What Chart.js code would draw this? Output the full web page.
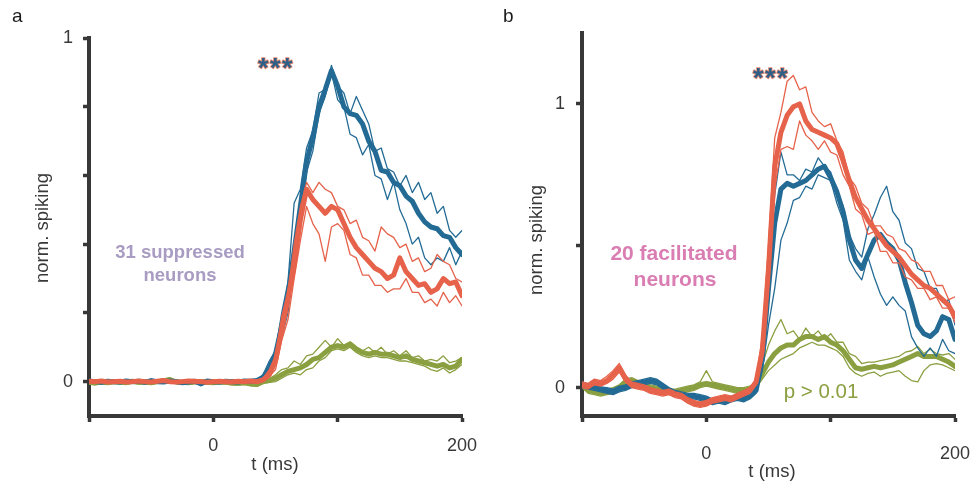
<!DOCTYPE html>
<html>
<head>
<meta charset="utf-8">
<script src="https://cdn.jsdelivr.net/npm/chart.js@4.4.0/dist/chart.umd.min.js"></script>
<style>
  body { margin: 0; background: #fff; }
  #wrap { position: relative; width: 977px; height: 484px; }
  canvas { position: absolute; top: 0; }
</style>
</head>
<body>
<div id="wrap">
  <canvas id="chartA" width="489" height="484" style="left:0"></canvas>
  <canvas id="chartB" width="488" height="484" style="left:489px"></canvas>
</div>
<script>
// time axis, ms (5 ms steps)
const TIME_MS = [-100,-95,-90,-85,-80,-75,-70,-65,-60,-55,-50,-45,-40,-35,-30,-25,-20,-15,-10,-5,
  0,5,10,15,20,25,30,35,40,45,50,55,60,65,70,75,80,85,90,95,
  100,105,110,115,120,125,130,135,140,145,150,155,160,165,170,175,180,185,190,195,200];

const X_TICKS = [-100, 0, 100, 200];
const X_LABELS = { '0': '0', '200': '200' };

// panel a: 31 suppressed neurons
const A_Y_TICKS = [0, 0.2, 0.4, 0.6, 0.8, 1];
const A_BLUE_MEAN = [0.002,0.000,-0.002,0.001,0.000,-0.001,0.002,0.000,0.001,-0.002,0.003,0.000,-0.001,0.002,0.000,-0.003,-0.001,0.001,-0.006,0.002,0.000,-0.001,0.001,0.000,-0.001,0.002,0.001,0.003,
  0.012,0.04,0.08,0.16,0.25,0.38,0.51,0.64,0.71,0.8,0.85,0.905,0.86,0.8,0.78,0.775,0.75,0.7,0.67,0.615,0.61,0.58,0.57,0.54,0.525,0.49,0.465,0.45,0.445,0.425,0.42,0.39,0.37];
const A_BLUE_HI = [0.006,0.004,0.002,0.005,0.004,0.003,0.006,0.004,0.005,0.002,0.007,0.004,0.003,0.006,0.004,0.001,0.003,0.005,-0.002,0.006,0.004,0.003,0.005,0.004,0.003,0.006,0.005,0.007,
  0.02,0.06,0.09,0.2,0.29,0.52,0.56,0.68,0.73,0.84,0.85,0.92,0.86,0.84,0.78,0.83,0.79,0.75,0.67,0.68,0.62,0.61,0.57,0.6,0.55,0.58,0.53,0.55,0.49,0.51,0.44,0.42,0.44];
const A_BLUE_LO = [-0.002,-0.004,-0.006,-0.003,-0.004,-0.005,-0.002,-0.004,-0.003,-0.006,-0.001,-0.004,-0.005,-0.002,-0.004,-0.007,-0.005,-0.003,-0.012,-0.002,-0.004,-0.005,-0.003,-0.004,-0.005,-0.002,-0.003,-0.001,
  0.005,0.025,0.065,0.13,0.2,0.35,0.47,0.61,0.67,0.78,0.83,0.9,0.82,0.8,0.72,0.71,0.66,0.69,0.6,0.59,0.53,0.58,0.5,0.46,0.4,0.42,0.36,0.34,0.36,0.35,0.39,0.34,0.38];
const A_ORANGE_MEAN = [0.001,0.000,0.002,-0.001,0.000,0.001,-0.001,0.000,0.002,0.000,-0.001,0.001,0.003,0.000,-0.001,0.000,0.002,0.001,0.000,-0.002,0.000,0.001,0.000,-0.001,0.001,0.000,0.002,0.000,
  0.005,0.02,0.06,0.15,0.24,0.34,0.47,0.56,0.53,0.51,0.49,0.51,0.5,0.46,0.42,0.39,0.37,0.35,0.33,0.32,0.3,0.31,0.36,0.32,0.3,0.28,0.285,0.26,0.27,0.3,0.285,0.29,0.25];
const A_ORANGE_HI = [0.005,0.004,0.006,0.003,0.004,0.005,0.003,0.004,0.006,0.004,0.003,0.005,0.007,0.004,0.003,0.004,0.006,0.005,0.004,0.002,0.004,0.005,0.004,0.003,0.005,0.004,0.006,0.004,
  0.01,0.035,0.075,0.19,0.26,0.4,0.51,0.58,0.55,0.58,0.56,0.55,0.51,0.5,0.46,0.47,0.42,0.41,0.38,0.45,0.43,0.42,0.39,0.4,0.35,0.36,0.32,0.33,0.37,0.35,0.34,0.3,0.29];
const A_ORANGE_LO = [-0.003,-0.004,-0.002,-0.005,-0.004,-0.003,-0.005,-0.004,-0.002,-0.004,-0.005,-0.003,-0.001,-0.004,-0.005,-0.004,-0.002,-0.003,-0.004,-0.006,-0.004,-0.003,-0.004,-0.005,-0.003,-0.004,-0.002,-0.004,
  0.0,0.015,0.035,0.12,0.18,0.3,0.41,0.51,0.46,0.43,0.35,0.45,0.46,0.44,0.37,0.36,0.31,0.31,0.28,0.28,0.26,0.27,0.27,0.3,0.26,0.26,0.23,0.24,0.22,0.26,0.23,0.25,0.22];
const A_GREEN_MEAN = [-0.002,-0.004,-0.001,-0.003,0.000,-0.002,-0.003,0.001,-0.002,-0.001,-0.003,0.000,0.002,0.005,-0.001,-0.002,-0.003,-0.001,0.000,-0.002,-0.003,-0.001,-0.002,-0.004,-0.005,-0.003,-0.006,-0.008,
  0.0,0.003,0.01,0.02,0.03,0.035,0.04,0.05,0.065,0.07,0.085,0.1,0.105,0.1,0.11,0.095,0.085,0.08,0.085,0.08,0.08,0.075,0.07,0.075,0.065,0.06,0.055,0.05,0.045,0.05,0.04,0.045,0.065];
const A_GREEN_HI = [0.003,0.000,0.004,0.001,0.005,0.002,0.001,0.006,0.003,0.004,0.002,0.005,0.008,0.012,0.004,0.003,0.002,0.004,0.006,0.003,0.002,0.004,0.003,0.001,0.000,0.002,-0.002,-0.003,
  0.003,0.008,0.02,0.035,0.04,0.06,0.05,0.075,0.08,0.1,0.12,0.1,0.125,0.105,0.115,0.1,0.09,0.1,0.085,0.1,0.08,0.09,0.075,0.09,0.07,0.075,0.06,0.065,0.06,0.075,0.055,0.06,0.07];
const A_GREEN_LO = [-0.007,-0.009,-0.006,-0.008,-0.005,-0.007,-0.008,-0.004,-0.007,-0.006,-0.008,-0.005,-0.003,0.000,-0.006,-0.007,-0.008,-0.006,-0.005,-0.007,-0.008,-0.006,-0.007,-0.009,-0.01,-0.008,-0.012,-0.014,
  -0.005,-0.002,0.0,0.01,0.02,0.025,0.02,0.035,0.04,0.06,0.07,0.09,0.095,0.09,0.1,0.085,0.075,0.07,0.075,0.07,0.07,0.065,0.06,0.06,0.055,0.05,0.045,0.035,0.03,0.04,0.025,0.035,0.05];

// panel b: 20 facilitated neurons
const B_Y_TICKS = [0, 0.5, 1];
const B_ORANGE_MEAN = [0.01,0.005,0.02,0.015,0.025,0.045,0.07,0.03,0.01,0.005,0.0,-0.01,-0.015,-0.02,-0.015,-0.025,-0.03,-0.045,-0.055,-0.06,-0.055,-0.045,-0.04,-0.035,-0.04,-0.03,-0.02,-0.01,
  0.02,0.13,0.42,0.78,0.9,0.96,0.99,1.0,0.94,0.91,0.9,0.89,0.88,0.86,0.8,0.73,0.67,0.63,0.59,0.56,0.53,0.5,0.48,0.46,0.43,0.4,0.38,0.36,0.35,0.33,0.31,0.29,0.25];
const B_ORANGE_HI = [0.02,0.015,0.03,0.025,0.04,0.06,0.085,0.045,0.02,0.015,0.01,0.0,-0.005,-0.01,-0.005,-0.015,-0.02,-0.035,-0.045,-0.05,-0.045,-0.035,-0.03,-0.025,-0.03,-0.02,-0.01,0.0,
  0.03,0.18,0.5,0.88,0.97,1.08,1.1,1.05,1.06,0.97,0.94,0.92,0.93,0.87,0.83,0.74,0.71,0.65,0.63,0.57,0.57,0.54,0.53,0.49,0.48,0.45,0.44,0.41,0.41,0.36,0.36,0.31,0.32];
const B_ORANGE_LO = [0.0,-0.005,0.01,0.005,0.015,0.03,0.055,0.02,0.0,-0.005,-0.01,-0.02,-0.025,-0.03,-0.025,-0.035,-0.04,-0.055,-0.065,-0.07,-0.065,-0.055,-0.05,-0.045,-0.05,-0.04,-0.03,-0.02,
  0.01,0.1,0.35,0.7,0.84,0.85,0.84,0.94,0.89,0.87,0.84,0.87,0.83,0.82,0.75,0.71,0.63,0.61,0.54,0.55,0.48,0.48,0.44,0.44,0.39,0.38,0.35,0.35,0.31,0.32,0.28,0.28,0.23];
const B_BLUE_MEAN = [0.01,0.005,0.0,-0.005,-0.01,-0.015,-0.005,0.0,0.01,0.015,0.02,0.025,0.02,0.005,-0.01,-0.02,-0.025,-0.03,-0.03,-0.035,-0.04,-0.05,-0.045,-0.05,-0.04,-0.035,-0.04,-0.03,
  -0.01,0.1,0.35,0.58,0.7,0.72,0.71,0.72,0.73,0.75,0.77,0.78,0.74,0.69,0.62,0.52,0.45,0.42,0.47,0.52,0.54,0.51,0.49,0.45,0.37,0.3,0.22,0.19,0.18,0.2,0.25,0.24,0.17];
const B_BLUE_HI = [0.02,0.012,0.01,0.003,0.0,-0.005,0.005,0.01,0.02,0.025,0.03,0.035,0.03,0.015,0.0,-0.01,-0.015,-0.02,-0.02,-0.025,-0.03,-0.04,-0.035,-0.04,-0.03,-0.025,-0.03,-0.02,
  0.0,0.14,0.42,0.68,0.83,0.75,0.75,0.73,0.77,0.76,0.81,0.78,0.76,0.69,0.64,0.54,0.49,0.46,0.56,0.61,0.67,0.71,0.62,0.59,0.51,0.49,0.42,0.41,0.35,0.35,0.3,0.31,0.22];
const B_BLUE_LO = [0.0,-0.005,-0.01,-0.015,-0.02,-0.025,-0.015,-0.01,0.0,0.005,0.01,0.015,0.01,-0.005,-0.02,-0.03,-0.035,-0.04,-0.04,-0.045,-0.05,-0.06,-0.055,-0.06,-0.05,-0.045,-0.05,-0.04,
  -0.02,0.06,0.22,0.35,0.52,0.58,0.66,0.67,0.71,0.7,0.75,0.74,0.73,0.65,0.59,0.45,0.41,0.38,0.46,0.39,0.33,0.29,0.32,0.29,0.27,0.18,0.14,0.11,0.14,0.11,0.17,0.13,0.12];
const B_GREEN_MEAN = [0.01,-0.01,-0.015,-0.02,-0.015,-0.01,0.0,0.02,0.025,0.015,0.005,0.0,-0.005,-0.01,-0.015,-0.015,-0.01,-0.005,0.0,0.01,0.015,0.01,0.005,0.0,-0.005,-0.01,-0.01,-0.005,
  0.01,0.05,0.09,0.12,0.14,0.15,0.15,0.17,0.18,0.18,0.17,0.18,0.16,0.15,0.13,0.1,0.07,0.065,0.07,0.075,0.07,0.075,0.08,0.09,0.1,0.11,0.12,0.11,0.11,0.11,0.1,0.09,0.075];
const B_GREEN_HI = [0.02,0.0,-0.005,-0.01,-0.005,0.0,0.01,0.03,0.035,0.025,0.015,0.01,0.005,0.0,-0.005,-0.005,0.0,0.005,0.01,0.02,0.06,0.02,0.015,0.01,0.005,0.0,0.0,0.005,
  0.02,0.08,0.15,0.2,0.24,0.19,0.2,0.17,0.21,0.18,0.2,0.17,0.19,0.16,0.16,0.12,0.11,0.085,0.09,0.09,0.095,0.1,0.105,0.11,0.125,0.13,0.145,0.12,0.135,0.12,0.115,0.12,0.1];
const B_GREEN_LO = [0.0,-0.02,-0.025,-0.03,-0.025,-0.02,-0.01,0.01,0.015,0.005,-0.005,-0.01,-0.015,-0.02,-0.025,-0.025,-0.02,-0.015,-0.01,0.0,0.005,0.0,-0.005,-0.01,-0.015,-0.02,-0.02,-0.015,
  0.0,0.03,0.06,0.08,0.1,0.11,0.12,0.14,0.15,0.16,0.15,0.15,0.14,0.13,0.11,0.07,0.05,0.04,0.05,0.055,0.04,0.05,0.055,0.06,0.04,0.025,0.02,0.06,0.08,0.085,0.08,0.07,0.06];

const BLUE = '#236b95';
const ORANGE = '#e6624a';
const GREEN = '#8a9f40';
const AXIS = '#383838';
const FONT = "'Liberation Sans', Arial, Helvetica, sans-serif";

const toPoints = vals => TIME_MS.map((t, i) => ({ x: t, y: vals[i] }));

const trace = (vals, color, width) => ({
    data: toPoints(vals),
    borderColor: color,
    borderWidth: width,
    pointRadius: 0,
    fill: false,
    tension: 0,
    borderJoinStyle: 'round',
    borderCapStyle: 'round'
});

const group = (mean, hi, lo, color) => [trace(hi, color, 1.3), trace(lo, color, 1.3), trace(mean, color, 5)];

// draws panel letters, stars, group labels and axis titles
const notesPlugin = {
    id: 'notes',
    afterDraw(chart, args, opts) {
        const ctx = chart.ctx;
        (opts.items || []).forEach(n => {
            ctx.save();
            ctx.font = n.font;
            ctx.textAlign = n.align || 'center';
            ctx.textBaseline = n.baseline || 'middle';
            if (n.spacing) ctx.letterSpacing = n.spacing;
            ctx.translate(n.x, n.y);
            if (n.rotate) ctx.rotate(n.rotate);
            if (n.stroke) {
                ctx.strokeStyle = n.stroke;
                ctx.lineWidth = 1.6;
                ctx.lineJoin = 'round';
                ctx.strokeText(n.text, 0, 0);
            }
            ctx.fillStyle = n.color;
            ctx.fillText(n.text, 0, 0);
            ctx.restore();
        });
    }
};

// keep label overflow from pushing the plot area around; layout padding decides
const noScalePadding = s => { s.paddingLeft = 0; s.paddingRight = 0; s.paddingTop = 0; s.paddingBottom = 0; };

const addPanel = (canvasId, datasets, yRange, yTicks, yLabels, pad, xTickPad, yTickPad, notes) => {
    new Chart(document.getElementById(canvasId), {
        type: 'line',
        data: { datasets: datasets },
        plugins: [notesPlugin],
        options: {
            responsive: false,
            animation: false,
            events: [],
            layout: { padding: pad },
            plugins: {
                legend: { display: false },
                tooltip: { enabled: false },
                notes: { items: notes }
            },
            scales: {
                x: {
                    type: 'linear',
                    min: -100,
                    max: 200,
                    afterBuildTicks: s => { s.ticks = X_TICKS.map(v => ({ value: v })); },
                    afterFit: s => { s.height = 68; noScalePadding(s); },
                    ticks: {
                        autoSkip: false,
                        maxRotation: 0,
                        padding: xTickPad,
                        color: AXIS,
                        font: { family: FONT, size: 18 },
                        callback: v => X_LABELS[String(v)] || ''
                    },
                    grid: { drawOnChartArea: false, drawTicks: true, tickLength: 6, tickWidth: 3.5, tickColor: AXIS },
                    border: { color: AXIS, width: 4 }
                },
                y: {
                    type: 'linear',
                    min: yRange[0],
                    max: yRange[1],
                    afterBuildTicks: s => { s.ticks = yTicks.map(v => ({ value: v })); },
                    afterFit: s => { s.width = 60; noScalePadding(s); },
                    ticks: {
                        autoSkip: false,
                        padding: yTickPad,
                        color: AXIS,
                        font: { family: FONT, size: 18 },
                        callback: v => yLabels.includes(v) ? String(v) : ''
                    },
                    grid: { drawOnChartArea: false, drawTicks: true, tickLength: 6, tickWidth: 3.5, tickColor: AXIS },
                    border: { color: AXIS, width: 4 }
                }
            }
        }
    });
};

addPanel('chartA',
    [...group(A_ORANGE_MEAN, A_ORANGE_HI, A_ORANGE_LO, ORANGE),
     ...group(A_BLUE_MEAN, A_BLUE_HI, A_BLUE_LO, BLUE),
     ...group(A_GREEN_MEAN, A_GREEN_HI, A_GREEN_LO, GREEN)],
    [-0.1, 1], A_Y_TICKS, [0, 1],
    { left: 29, top: 38, right: 27, bottom: 0 }, 13, 10,
    [
        { text: 'a', x: 12, y: 17, align: 'left', font: `19px ${FONT}`, color: '#1a1a1a' },
        { text: '***', x: 276, y: 77, baseline: 'alphabetic', spacing: '1.5px', font: `bold 27px ${FONT}`, color: '#2f5f86', stroke: '#e88a72' },
        { text: '31 suppressed', x: 180, y: 253, font: `bold 18.5px ${FONT}`, color: '#a99cc2' },
        { text: 'neurons', x: 180, y: 276, font: `bold 18.5px ${FONT}`, color: '#a99cc2' },
        { text: 'norm. spiking', x: 43, y: 228, rotate: -Math.PI / 2, font: `18.5px ${FONT}`, color: AXIS },
        { text: 't (ms)', x: 275, y: 465, font: `18.5px ${FONT}`, color: AXIS }
    ]);

addPanel('chartB',
    [...group(B_ORANGE_MEAN, B_ORANGE_HI, B_ORANGE_LO, ORANGE),
     ...group(B_BLUE_MEAN, B_BLUE_HI, B_BLUE_LO, BLUE),
     ...group(B_GREEN_MEAN, B_GREEN_HI, B_GREEN_LO, GREEN)],
    [-0.1, 1.25], B_Y_TICKS, [0, 1],
    { left: 33, top: 33, right: 22, bottom: 0 }, 21, 11,
    [
        { text: 'b', x: 14, y: 17, align: 'left', font: `19px ${FONT}`, color: '#1a1a1a' },
        { text: '***', x: 282, y: 87, baseline: 'alphabetic', spacing: '1.5px', font: `bold 27px ${FONT}`, color: '#2f5f86', stroke: '#e88a72' },
        { text: '20 facilitated', x: 185, y: 254, font: `bold 21px ${FONT}`, color: '#d97db2' },
        { text: 'neurons', x: 186, y: 280, font: `bold 21px ${FONT}`, color: '#d97db2' },
        { text: 'p > 0.01', x: 332, y: 392, font: `20.5px ${FONT}`, color: GREEN },
        { text: 'norm. spiking', x: 48, y: 240, rotate: -Math.PI / 2, font: `18.5px ${FONT}`, color: AXIS },
        { text: 't (ms)', x: 283, y: 472, font: `18.5px ${FONT}`, color: AXIS }
    ]);
</script>
</body>
</html>
